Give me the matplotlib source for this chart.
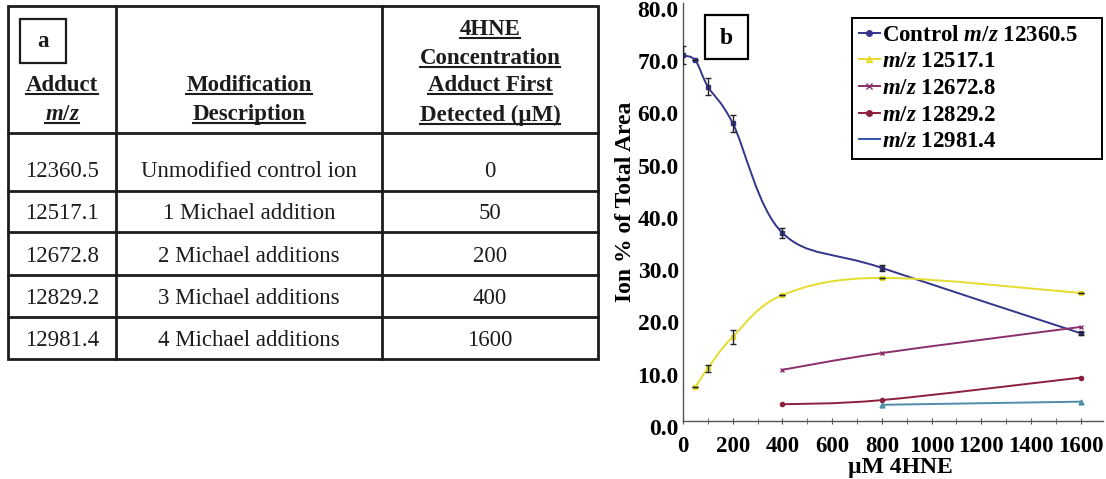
import numpy as np
import matplotlib
matplotlib.use("Agg")
import matplotlib.pyplot as plt
from matplotlib.path import Path
from matplotlib.patches import PathPatch, Rectangle
from matplotlib.lines import Line2D
from matplotlib.transforms import ScaledTranslation

plt.rcParams["font.family"] = ["Liberation Serif", "DejaVu Serif"]
plt.rcParams["mathtext.fontset"] = "custom"
plt.rcParams["mathtext.rm"] = "Liberation Serif:bold"
plt.rcParams["mathtext.it"] = "Liberation Serif:italic:bold"
plt.rcParams["mathtext.bf"] = "Liberation Serif:bold"

# ---- table (panel a) ----
adduct_mz = ["12360.5", "12517.1", "12672.8", "12829.2", "12981.4"]
descriptions = ["Unmodified control ion", "1 Michael addition", "2 Michael additions",
                "3 Michael additions", "4 Michael additions"]
first_detected = ["0", "50", "200", "400", "1600"]

# ---- ion abundance vs 4HNE (panel b) ----
conc_control = [0, 50, 100, 200, 400, 800, 1600]
pct_control = [70.0, 69.0, 64.0, 57.0, 36.0, 29.3, 16.8]
err_control = [1.7, 0.0, 1.6, 1.6, 0.9, 0.5, 0.3]

conc_1 = [50, 100, 200, 400, 800, 1600]
pct_1 = [6.5, 10.1, 16.1, 24.1, 27.4, 24.5]
err_1 = [0.0, 0.7, 1.3, 0.0, 0.0, 0.0]

conc_2 = [400, 800, 1600]
pct_2 = [9.8, 13.0, 18.0]

conc_3 = [400, 800, 1600]
pct_3 = [3.2, 4.0, 8.3]

conc_4 = [800, 1600]
pct_4 = [3.1, 3.7]

series_labels = [r"Control $\mathit{m/z}$ 12360.5", r"$\mathit{m/z}$ 12517.1",
                 r"$\mathit{m/z}$ 12672.8", r"$\mathit{m/z}$ 12829.2",
                 r"$\mathit{m/z}$ 12981.4"]


def smooth_path(xs, ys):
    """Cubic Bezier path through the points (Catmull-Rom style smoothing)."""
    pts = np.column_stack([xs, ys]).astype(float)
    n = len(pts)
    verts = [pts[0]]
    codes = [Path.MOVETO]
    for i in range(n - 1):
        p0 = pts[i - 1] if i > 0 else pts[i]
        p1 = pts[i]
        p2 = pts[i + 1]
        p3 = pts[i + 2] if i + 2 < n else pts[i + 1]
        verts += [p1 + (p2 - p0) / 6.0, p2 - (p3 - p1) / 6.0, p2]
        codes += [Path.CURVE4] * 3
    return Path(verts, codes)


W, H = 1106, 479
fig = plt.figure(figsize=(W / 100, H / 100), dpi=100)

# overlay in pixel units for the table and panel tags
ov = fig.add_axes([0, 0, 1, 1], zorder=0)
ov.set_xlim(0, W)
ov.set_ylim(H, 0)
ov.axis("off")

tcol = "#1c1c1c"
left, right, top, bottom = 8, 598, 6, 359
col_x = [116, 382]
row_y = [133, 191, 232, 275, 317]
ov.add_patch(Rectangle((left, top), right - left, bottom - top, fill=False,
                       ec=tcol, lw=2.0))
for cx in col_x:
    ov.plot([cx, cx], [top, bottom], color=tcol, lw=2.0)
for ry in row_y:
    ov.plot([left, right], [ry, ry], color=tcol, lw=2.0)

col_centers = [62, 249, 490]
fs_tab = 16.5

header_texts = []
for txt, cx, by in [("Adduct", col_centers[0], 91), (r"$\mathit{m/z}$", col_centers[0], 120),
                    ("Modification", col_centers[1], 91),
                    ("Description", col_centers[1], 120),
                    ("4HNE", col_centers[2], 35), ("Concentration", col_centers[2], 64),
                    ("Adduct First", col_centers[2], 91),
                    ("Detected (\u00b5M)", col_centers[2], 121)]:
    t = ov.text(cx, by, txt, ha="center", va="baseline", fontsize=fs_tab,
                fontweight="bold", color=tcol)
    header_texts.append((t, by))

body_baselines = [177, 219, 262, 304, 346]
for i, by in enumerate(body_baselines):
    for j, val in enumerate([adduct_mz[i], descriptions[i], first_detected[i]]):
        ov.text(col_centers[j], by, val, ha="center", va="baseline",
                fontsize=fs_tab, color=tcol)

# panel tag a
ov.add_patch(Rectangle((20, 19), 46, 44, fill=False, ec=tcol, lw=1.6))
ov.text(43, 41, "a", ha="center", va="center", fontsize=fs_tab,
        fontweight="bold", color=tcol)

# panel tag b
ov.add_patch(Rectangle((705, 15), 43, 44, fill=False, ec="black", lw=1.6))
ov.text(726, 38, "b", ha="center", va="center", fontsize=17,
        fontweight="bold", color="black")

# ---- plot axes ----
ax = fig.add_axes([683 / W, (H - 421) / H, 420 / W, 418 / H], zorder=1)
ax.patch.set_alpha(0)
ax.set_xlim(0, 1690)
ax.set_ylim(0, 80)
for s in ["top", "right"]:
    ax.spines[s].set_visible(False)
for s in ["left", "bottom"]:
    ax.spines[s].set_color("#555555")
    ax.spines[s].set_linewidth(1.0)

c_ctrl = "#34358a"
c_1 = "#e6dc30"
c_2 = "#8a2f6c"
c_3 = "#8c1f3e"
c_4 = "#4f8ea8"
c_4_leg = "#3355a8"

series = [
    (conc_control, pct_control, c_ctrl, "s", 3.5),
    (conc_1, pct_1, c_1, "s", 3.0),
    (conc_2, pct_2, c_2, "x", 3.5),
    (conc_3, pct_3, c_3, "o", 3.0),
    (conc_4, pct_4, c_4, "^", 3.5),
]
for xs, ys, col, mk, ms in series:
    ax.add_patch(PathPatch(smooth_path(xs, ys), fill=False, ec=col, lw=1.4,
                           zorder=2))
    ax.plot(xs, ys, ls="none", marker=mk, ms=ms, color=col, mec=col, mew=1.0,
            zorder=3)

ax.errorbar(conc_control, pct_control, yerr=err_control, fmt="none",
            ecolor="#222222", elinewidth=1.0, capsize=2.5, capthick=1.0, zorder=4)
ax.errorbar(conc_1, pct_1, yerr=err_1, fmt="none",
            ecolor="#222222", elinewidth=1.0, capsize=2.5, capthick=1.0, zorder=4)

ax.set_xticks(np.arange(0, 1601, 200))
ax.set_xticks(np.arange(0, 1601, 100), minor=True)
ax.set_yticks(np.arange(0, 81, 10))
ax.set_yticklabels([f"{v:.1f}" for v in np.arange(0, 81, 10)])
ax.tick_params(axis="x", which="both", direction="inout", length=4,
               color="#555555", labelsize=16.5, pad=9)
ax.tick_params(axis="y", length=0, labelsize=17, pad=3)
for lab in ax.get_xticklabels() + ax.get_yticklabels():
    lab.set_fontweight("bold")
off = ScaledTranslation(0, -6 / 100, fig.dpi_scale_trans)
for tk in ax.yaxis.get_major_ticks():
    tk.label1.set_transform(tk.label1.get_transform() + off)

ax.set_xlabel("\u00b5M 4HNE", fontsize=17, fontweight="bold")
ax.xaxis.set_label_coords(0.517, -0.112)
ax.xaxis.label.set_verticalalignment("center")
ax.set_ylabel("Ion % of Total Area", fontsize=17, fontweight="bold")
ax.yaxis.set_label_coords(-0.138, 0.524)
ax.yaxis.label.set_verticalalignment("center")

handles = [
    Line2D([], [], color=c_ctrl, marker="o", ms=4, lw=1.4),
    Line2D([], [], color=c_1, marker="^", ms=4, lw=1.4),
    Line2D([], [], color=c_2, marker="x", ms=4, lw=1.4),
    Line2D([], [], color=c_3, marker="o", ms=4, lw=1.4),
    Line2D([], [], color=c_4_leg, lw=1.4),
]
leg = ax.legend(handles, series_labels, loc="upper left", mode="expand",
                bbox_to_anchor=(852 / W, 1 - 157 / H, 250 / W, 139 / H),
                bbox_transform=fig.transFigure,
                borderaxespad=0, frameon=True, fancybox=False, framealpha=1,
                edgecolor="black", prop={"weight": "bold", "size": 16.5},
                handlelength=0.9, handletextpad=0.1, labelspacing=0.24,
                borderpad=0.3)
leg.get_frame().set_linewidth(1.4)

# underline the table headings
fig.canvas.draw()
renderer = fig.canvas.get_renderer()
for t, by in header_texts:
    bb = t.get_window_extent(renderer)
    ov.plot([bb.x0, bb.x1], [by + 3, by + 3], color=tcol, lw=1.5)

fig.savefig("out.png", dpi=100)
